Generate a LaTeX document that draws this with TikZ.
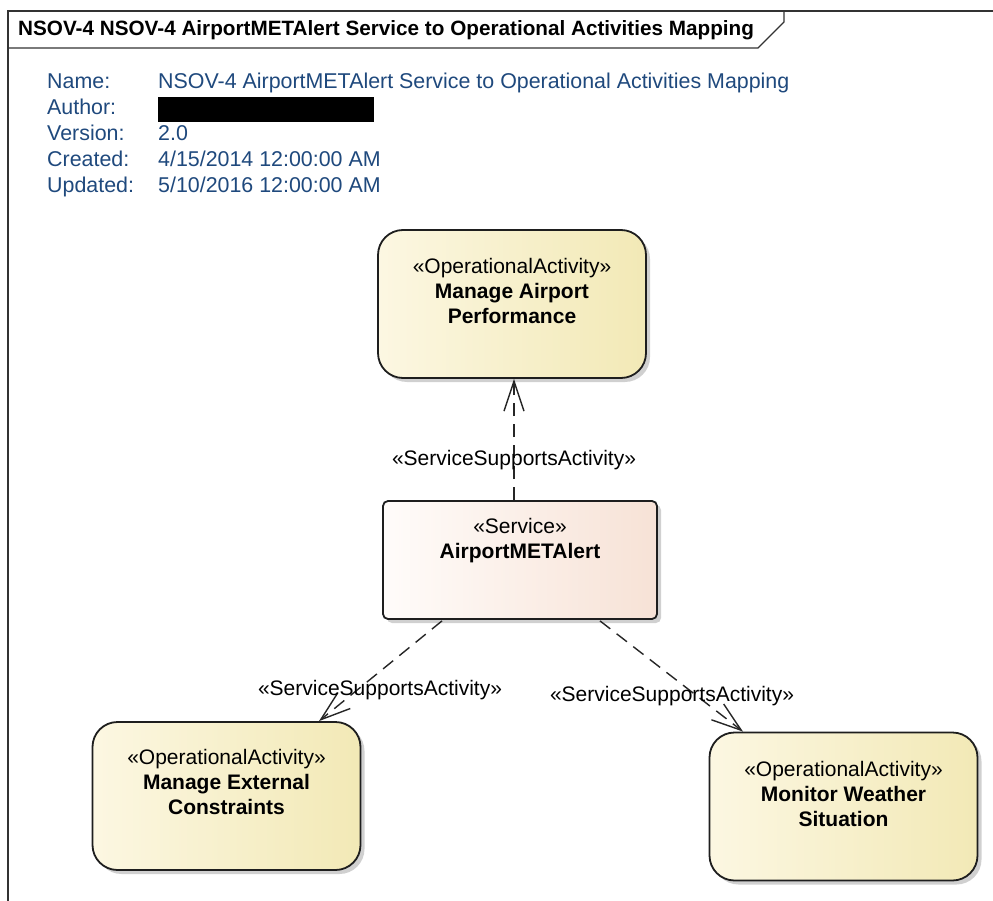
\documentclass[tikz,border=0pt]{standalone}
\usepackage{fontspec}
\setmainfont{Liberation Sans}
\usetikzlibrary{arrows.meta,shadows,calc}

\definecolor{metablue}{RGB}{31,73,125}
\definecolor{edgegray}{RGB}{30,30,30}
\definecolor{actleft}{RGB}{252,247,226}
\definecolor{actright}{RGB}{242,233,182}
\definecolor{svcleft}{RGB}{255,252,250}
\definecolor{svcright}{RGB}{247,226,214}

\tikzset{
  frameline/.style={draw=black!80, line width=1.2pt},
  activitybox/.style={draw=edgegray, line width=1.8pt, rounded corners=25pt,
    left color=actleft, right color=actright, minimum width=268, minimum height=148,
    drop shadow={shadow xshift=4pt, shadow yshift=-4pt, opacity=0.3, fill=black!60}},
  servicebox/.style={draw=edgegray, line width=1.8pt, rounded corners=5pt,
    left color=svcleft, right color=svcright, minimum width=274, minimum height=118,
    drop shadow={shadow xshift=4pt, shadow yshift=-4pt, opacity=0.3, fill=black!60}},
  boxtext/.style={anchor=north, inner sep=0pt, align=center,
    font=\fontsize{21}{25}\selectfont},
  supports/.style={draw=black!85, line width=1.4pt, dash pattern=on 13pt off 8pt,
    -{Straight Barb[length=30pt, width=20pt]}},
  linklabel/.style={inner sep=0pt, font=\fontsize{21}{25}\selectfont},
  metakey/.style={anchor=base west, inner sep=0pt, text=metablue,
    font=\fontsize{21.4}{25}\selectfont},
}

\begin{document}
\begin{tikzpicture}[x=1pt, y=-1pt]
\useasboundingbox (0,0) rectangle (993,901);
\fill[white] (0,0) rectangle (993,901);

% diagram frame with its name tab
\draw[frameline] (993,11) -- (8,11) -- (8,901);
\draw[frameline] (8,48) -- (758,48) -- (784,22) -- (784,11);
\node[anchor=west, inner sep=0pt, font=\bfseries\fontsize{20.7}{24}\selectfont] (title) at (18,30)
  {NSOV-4 NSOV-4 AirportMETAlert Service to Operational Activities Mapping};

% diagram properties
\node[metakey] (kname) at (47,89) {Name:};
\node[metakey] (kauthor) at (47,115) {Author:};
\node[metakey] (kversion) at (47,141) {Version:};
\node[metakey] (kcreated) at (47,167) {Created:};
\node[metakey] (kupdated) at (47,193) {Updated:};
\node[metakey] (vname) at (158,89) {NSOV-4 AirportMETAlert Service to Operational Activities Mapping};
\fill[black] (158,97) rectangle (374,122);
\node[metakey] (vversion) at (158,141) {2.0};
\node[metakey] (vcreated) at (158,167) {4/15/2014 12:00:00 AM};
\node[metakey] (vupdated) at (158,193) {5/10/2016 12:00:00 AM};

% elements
\node[activitybox] (map) at (512,304) {};
\node[boxtext] (mapT) at ($(map.north)+(0,29)$)
  {«OperationalActivity»\\\textbf{Manage Airport}\\\textbf{Performance}};

\node[servicebox] (svc) at (520,560) {};
\node[boxtext] (svcT) at ($(svc.north)+(0,18)$)
  {«Service»\\\textbf{AirportMETAlert}};

\node[activitybox] (mec) at (226.5,796) {};
\node[boxtext] (mecT) at ($(mec.north)+(0,28)$)
  {«OperationalActivity»\\\textbf{Manage External}\\\textbf{Constraints}};

\node[activitybox] (mws) at (843.5,806.5) {};
\node[boxtext] (mwsT) at ($(mws.north)+(0,29)$)
  {«OperationalActivity»\\\textbf{Monitor Weather}\\\textbf{Situation}};

% service-to-activity links
\draw[supports] ($(svc.north)+(-6,0)$) -- ($(map.south)+(2,0)$);
\draw[supports] ($(svc.south)+(-78,1)$) -- ($(mec.north)+(92.5,0)$);
\draw[supports] ($(svc.south)+(80,1)$) -- ($(mws.north)+(-100.5,0)$);

\node[linklabel] (lbl1) at (514,460) {«ServiceSupportsActivity»};
\node[linklabel] (lbl2) at (380,690) {«ServiceSupportsActivity»};
\node[linklabel] (lbl3) at (672,696) {«ServiceSupportsActivity»};
\end{tikzpicture}
\end{document}
